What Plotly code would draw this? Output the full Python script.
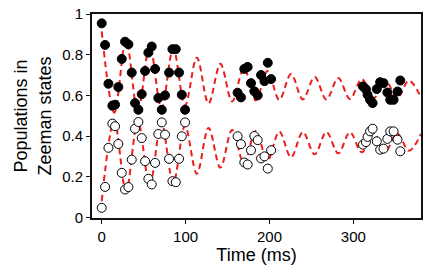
import plotly.graph_objects as go

# ---- data ----
t_fit = [0, 15, 29, 43.1, 57.2, 71.2, 85.3, 99.3, 113.4, 127.4, 141.5, 155.5, 169.6, 183.6,
         197.7, 211.7, 225.8, 239.8, 253.9, 267.9, 282, 296, 310.1, 324.1, 338.2, 352.2, 366.3, 380.7]
upper_fit = [0.915, 0.515, 0.87, 0.52, 0.845, 0.535, 0.83, 0.55, 0.785, 0.56, 0.755, 0.57, 0.735, 0.575,
             0.72, 0.578, 0.705, 0.58, 0.69, 0.58, 0.685, 0.582, 0.68, 0.585, 0.675, 0.587, 0.672, 0.59]
lower_fit = [0.08, 0.475, 0.13, 0.475, 0.16, 0.465, 0.17, 0.45, 0.215, 0.44, 0.245, 0.43, 0.265, 0.425,
             0.28, 0.422, 0.295, 0.42, 0.31, 0.42, 0.315, 0.418, 0.32, 0.415, 0.325, 0.413, 0.328, 0.41]

t_data = [0, 4, 8, 12.7, 15.9, 19.8, 23.9, 27.8, 31.8, 35.8, 39.7, 43.7, 47.7, 51.7, 55.6, 59.6,
          63.6, 67.5, 71.6, 75.5, 80.3, 84.3, 88.3, 92.2, 95.5, 99.4,
          162, 166, 170, 174, 178, 182, 186, 190, 194, 198, 202,
          311.5, 315, 317, 320, 323, 328, 332, 336, 340.6, 344, 348, 352.7, 356]
filled = [0.954, 0.848, 0.657, 0.549, 0.554, 0.641, 0.779, 0.864, 0.851, 0.712, 0.562, 0.529, 0.606, 0.72,
          0.81, 0.84, 0.73, 0.587, 0.529, 0.60, 0.712, 0.827, 0.827, 0.712, 0.603, 0.529,
          0.613, 0.59, 0.73, 0.74, 0.66, 0.62, 0.60, 0.70, 0.67, 0.76, 0.68,
          0.644, 0.63, 0.603, 0.578, 0.562, 0.631, 0.665, 0.66, 0.614, 0.578, 0.578, 0.619, 0.673]
empty = [0.047, 0.15, 0.342, 0.461, 0.448, 0.361, 0.219, 0.137, 0.149, 0.284, 0.436, 0.469, 0.39, 0.276,
         0.19, 0.162, 0.268, 0.41, 0.467, 0.407, 0.288, 0.178, 0.173, 0.288, 0.399, 0.467,
         0.399, 0.36, 0.27, 0.26, 0.33, 0.40, 0.38, 0.29, 0.30, 0.24, 0.33,
         0.358, 0.37, 0.396, 0.423, 0.436, 0.374, 0.333, 0.338, 0.386, 0.423, 0.423, 0.382, 0.325]

x_ticks = [0, 100, 200, 300]
y_ticks = [0, 0.2, 0.4, 0.6, 0.8, 1]
y_tick_text = ["0", "0.2", "0.4", "0.6", "0.8", "1"]

FONT = "Liberation Sans"
RED = "#ee1c1c"
INK = "#111111"

fig = go.Figure()
for yy in (upper_fit, lower_fit):
    fig.add_trace(go.Scatter(x=t_fit, y=yy, mode="lines",
                             line=dict(color=RED, width=2, dash="6px,4px", shape="spline", smoothing=1)))
fig.add_trace(go.Scatter(x=t_data, y=filled, mode="markers",
                         marker=dict(symbol="circle", size=9, color="black",
                                     line=dict(color="black", width=1))))
fig.add_trace(go.Scatter(x=t_data, y=empty, mode="markers",
                         marker=dict(symbol="circle", size=9, color="white",
                                     line=dict(color="black", width=1))))

fig.update_xaxes(range=[-11.6, 380.7], tickvals=x_ticks,
                 showgrid=True, gridcolor="white", zeroline=False,
                 showline=True, linecolor=INK, linewidth=2, mirror=True,
                 ticks="outside", ticklen=4, tickwidth=1, tickcolor=INK,
                 tickfont=dict(size=15, color="black"),
                 title=dict(text="Time (ms)", font=dict(size=18, color="black"), standoff=2))
fig.update_yaxes(range=[-0.003, 1], tickvals=y_ticks, ticktext=y_tick_text,
                 showgrid=True, gridcolor="white", zeroline=False,
                 showline=True, linecolor=INK, linewidth=2, mirror=True,
                 ticks="outside", ticklen=4, tickwidth=1, tickcolor=INK,
                 tickfont=dict(size=15, color="black"),
                 title=dict(text="Populations in<br>Zeeman states",
                            font=dict(size=18, color="black"), standoff=6))

fig.update_layout(width=425, height=272, margin=dict(l=92, r=4, t=14, b=54, autoexpand=False),
                  font=dict(family=FONT, color="black"),
                  paper_bgcolor="white", plot_bgcolor="white", showlegend=False)

fig.write_html("out.html", config={"displayModeBar": False},
               post_script="document.body.style.margin='0';document.body.style.overflow='hidden';")
